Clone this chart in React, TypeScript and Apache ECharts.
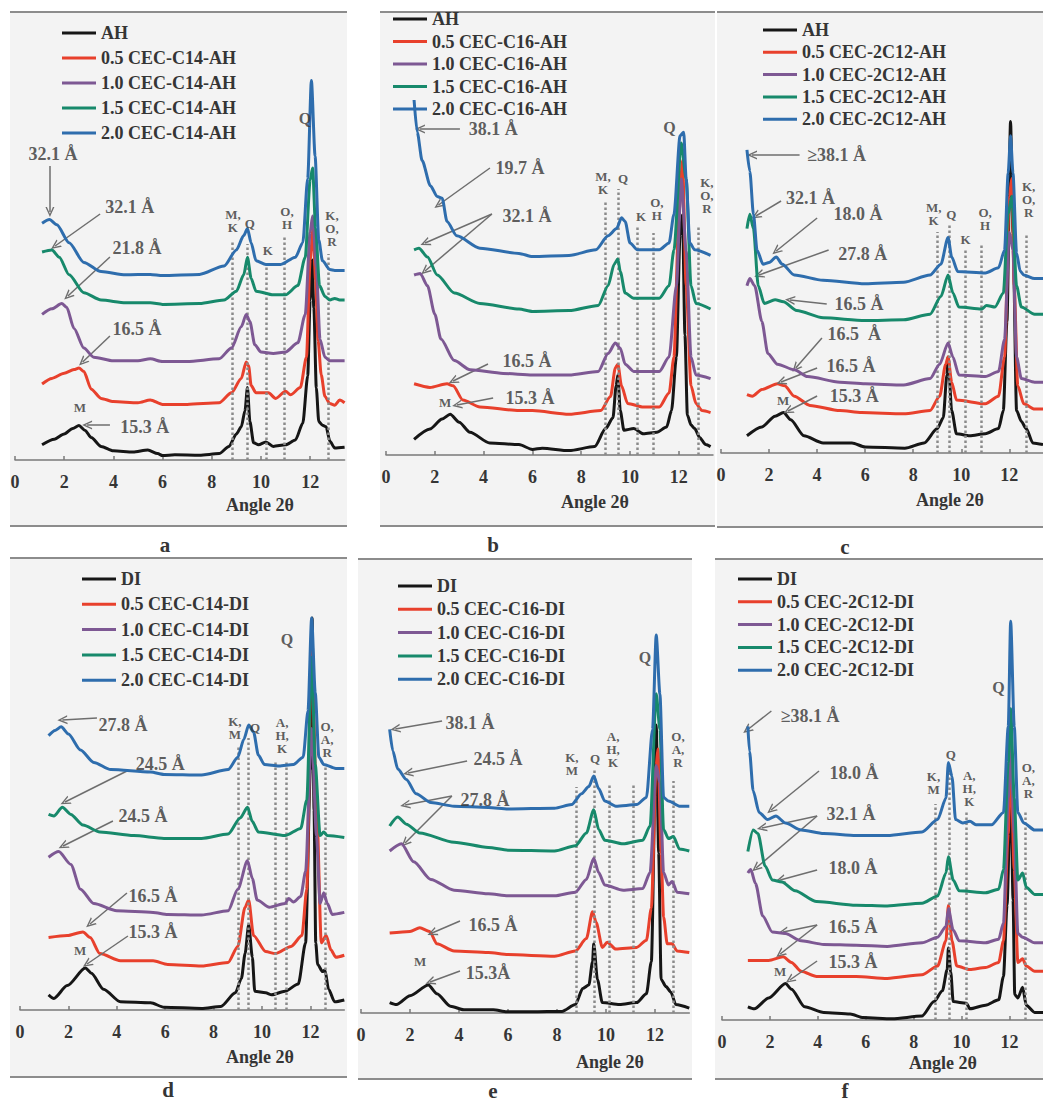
import React, { useEffect, useRef } from 'react';
import * as echarts from 'echarts';

type Pt = [number, number];
type Note = { text: string; at: Pt; from: Pt; to: Pt[] };
type Label = { text: string; at: Pt };

const xTicks = [0, 2, 4, 6, 8, 10, 12];
const seriesColors = ['#161616', '#e8402c', '#7d5893', '#17896b', '#2e6dad'];

// ---------------- panel a ----------------
const aNames = ['AH', '0.5 CEC-C14-AH', '1.0 CEC-C14-AH', '1.5 CEC-C14-AH', '2.0 CEC-C14-AH'];
const aAH: Pt[] = [[1.1,3.8],[1.6,5.2],[2.0,6.5],[2.35,7.9],[2.6,8.6],[2.85,7.4],[3.1,5.6],[3.5,3.4],[4.0,2.3],[4.8,2.0],[5.4,2.5],[5.8,1.6],[6.0,1.1],[6.5,1.3],[7.5,1.2],[8.3,1.6],[8.7,3.4],[9.0,6.5],[9.2,8.3],[9.35,12.3],[9.45,18.1],[9.55,9.6],[9.7,4.3],[9.9,3.8],[10.2,4.5],[10.5,3.4],[11.0,3.8],[11.4,5.0],[11.7,9.2],[11.9,21],[12.0,40],[12.08,50],[12.15,38],[12.25,18],[12.35,9.6],[12.5,8.7],[12.65,8.3],[12.8,4.7],[13.0,3.0],[13.4,3.2]];
const a05: Pt[] = [[1.1,19.0],[1.5,20.4],[2.0,21.7],[2.4,22.6],[2.6,23.0],[2.8,22.1],[3.1,17.7],[3.5,15.4],[4.0,14.6],[5.0,14.3],[5.5,15.0],[6.0,13.9],[7.0,13.9],[8.3,14.3],[8.8,16.8],[9.2,20.4],[9.4,24.5],[9.5,23.5],[9.6,18.6],[9.8,16.8],[10.3,16.8],[10.6,15.4],[11.0,17.2],[11.2,16.3],[11.6,18.1],[11.85,25.7],[12.0,50],[12.12,58],[12.22,45],[12.32,30],[12.45,21.3],[12.6,15.9],[12.8,14.1],[13.0,13.7],[13.2,15.0],[13.4,14.3]];
const a10: Pt[] = [[1.1,36.4],[1.5,37.8],[1.9,39.1],[2.1,38.2],[2.4,32.9],[2.8,28.0],[3.2,25.7],[4.0,24.8],[5.0,24.8],[5.5,25.3],[6.0,24.6],[7.0,24.6],[8.3,25.3],[8.8,28.0],[9.2,33.3],[9.4,36.4],[9.55,34.6],[9.75,28.8],[10.0,27.0],[10.5,26.6],[11.0,27.0],[11.5,29.3],[11.8,36.4],[12.0,57],[12.1,61],[12.25,48],[12.4,30.2],[12.6,25.7],[12.8,24.8],[13.0,24.8],[13.4,24.8]];
const a15: Pt[] = [[1.1,52.0],[1.5,52.5],[1.8,50.7],[2.2,46.3],[2.8,41.8],[3.5,40.0],[4.5,39.3],[5.5,39.3],[6.0,38.9],[7.5,39.1],[8.5,40.0],[9.0,42.2],[9.3,46.3],[9.45,50.7],[9.6,45.4],[9.8,42.2],[10.5,41.3],[11.0,41.3],[11.5,43.6],[11.8,50.7],[12.0,70],[12.1,73],[12.22,58],[12.38,43.6],[12.6,40.9],[12.8,40.0],[13.0,40.4],[13.2,40.0],[13.4,40.0]];
const a20: Pt[] = [[1.1,59.2],[1.4,60.1],[1.7,58.8],[2.2,54.3],[2.8,49.4],[3.5,47.1],[4.5,46.3],[5.5,46.4],[6.0,46.1],[7.5,46.4],[8.5,48.5],[9.0,52.5],[9.3,56.1],[9.45,57.9],[9.6,54.3],[9.8,49.8],[10.2,48.9],[10.8,48.9],[11.4,50.7],[11.7,54.3],[11.9,70.4],[12.05,94.9],[12.2,76],[12.35,55],[12.5,49.8],[12.8,47.6],[13.0,47.4],[13.4,47.4]];
const aNotes: Note[] = [
  { text: '32.1 Å', at: [1.54, 76.5], from: [1.42, 73.5], to: [[1.42, 62]] },
  { text: '32.1 Å', at: [4.67, 63.25], from: [3.46, 61.5], to: [[1.63, 53.5]] },
  { text: '21.8 Å', at: [4.96, 53], from: [3.86, 50.75], to: [[2.15, 41]] },
  { text: '16.5 Å', at: [4.96, 32.75], from: [3.86, 31], to: [[2.75, 24.5]] },
  { text: '15.3 Å', at: [5.28, 8.25], from: [3.86, 8.75], to: [[2.93, 8.75]] },
];
const aPhases: Label[] = [
  { text: 'M,\nK', at: [8.86, 59.75] }, { text: 'Q', at: [9.55, 59.25] }, { text: 'K', at: [10.28, 52.5] },
  { text: 'O,\nH', at: [11.06, 60.5] }, { text: 'K,\nO,\nR', at: [12.89, 58] },
];
const aDots: Pt[] = [[8.85, 54.5], [9.45, 54], [10.2, 49], [10.95, 56], [12.75, 51.5]];
const aPeakTags: Label[] = [{ text: 'Q', at: [11.79, 85.5] }];
const aMinTags: Label[] = [{ text: 'M', at: [2.64, 13.25] }];

// ---------------- panel b ----------------
const bNames = ['AH', '0.5 CEC-C16-AH', '1.0 CEC-C16-AH', '1.5 CEC-C16-AH', '2.0 CEC-C16-AH'];
const bAH: Pt[] = [[1.15,3.9],[1.8,6.5],[2.3,9],[2.63,10.2],[3.0,8.2],[3.44,5.7],[4.25,3.0],[5.45,2.6],[6.0,1.4],[6.4,1.7],[7.5,1.1],[8.55,2.1],[9.0,6.6],[9.3,9.3],[9.43,17.3],[9.5,20],[9.6,11.1],[9.75,6.2],[10.15,6.6],[10.55,5.3],[11.1,5.7],[11.5,7.0],[11.7,11.1],[11.9,24.5],[12.05,55],[12.15,60],[12.25,30],[12.35,10],[12.5,7.5],[12.65,6.6],[12.85,4.4],[13.1,2.6],[13.3,2.1]];
const b05: Pt[] = [[1.15,17.8],[1.8,16.9],[2.5,17.8],[2.75,17.3],[3.15,13.75],[3.85,12.0],[5.45,11.1],[6.0,11.1],[7.5,10.2],[8.8,11.1],[9.2,14.6],[9.4,21.8],[9.5,22.7],[9.65,17.3],[9.9,12.9],[10.55,12.0],[11.2,12.0],[11.6,15.5],[11.8,24.5],[12.0,60],[12.15,73.6],[12.3,42.3],[12.5,17.3],[12.7,12.9],[12.95,11.1],[13.3,10.6]];
const b10: Pt[] = [[1.15,45],[1.4,45.4],[1.7,42.3],[2.0,35.2],[2.25,29],[2.8,23.6],[3.45,21.3],[4.8,20.4],[6.0,20],[7.5,20],[8.7,20.9],[9.1,25.4],[9.4,28],[9.6,26.7],[9.8,22.7],[10.15,20.9],[11.2,20.9],[11.6,24.5],[11.9,42.3],[12.1,69],[12.3,51],[12.5,24.5],[12.7,20],[13.3,19.1]];
const b15: Pt[] = [[1.15,51.3],[1.35,51.7],[1.7,49.5],[2.1,45],[2.8,40.5],[3.85,37.9],[5.45,36.5],[6.0,35.9],[7.5,36.1],[8.7,37.4],[9.1,42.3],[9.35,47.7],[9.5,49],[9.6,45.9],[9.8,40.5],[10.15,39.2],[11.2,39.2],[11.6,42.3],[11.8,51.3],[12.1,78],[12.3,69],[12.5,42.3],[12.7,37.9],[13.3,36.5]];
const b20: Pt[] = [[1.15,88.75],[1.28,80.7],[1.48,73.6],[1.82,67.3],[2.1,64.6],[2.3,64.2],[2.5,58.4],[2.9,54.8],[3.85,51.7],[5.45,50.4],[6.0,49.6],[7.5,49.9],[8.6,51.3],[9.1,54.8],[9.45,56.6],[9.65,59.3],[9.8,58.4],[10.0,53],[10.3,51.3],[11.2,51.3],[11.6,53],[11.8,60.2],[12.05,79.8],[12.2,80.7],[12.3,69],[12.45,53],[12.65,51.3],[13.3,49.9]];
const bNotes: Note[] = [
  { text: '38.1 Å', at: [4.39, 81.5], from: [3.03, 81.5], to: [[1.39, 81.5]] },
  { text: '19.7 Å', at: [5.49, 71.75], from: [4.26, 71.75], to: [[2.15, 62.5]] },
  { text: '32.1 Å', at: [5.78, 59.75], from: [4.34, 60.25], to: [[1.6, 53], [1.6, 46]] },
  { text: '16.5 Å', at: [5.78, 23.5], from: [4.18, 22.75], to: [[2.75, 18.5]] },
  { text: '15.3 Å', at: [5.9, 14.25], from: [4.39, 14.25], to: [[2.91, 12.5]] },
];
const bPhases: Label[] = [
  { text: 'M,\nK', at: [8.89, 68] }, { text: 'Q', at: [9.71, 69.25] }, { text: 'K', at: [10.45, 59.75] },
  { text: 'O,\nH', at: [11.1, 61.5] }, { text: 'K,\nO,\nR', at: [13.15, 65] },
];
const bDots: Pt[] = [[9.0, 63.75], [9.5, 66.5], [10.3, 57.5], [10.95, 55.5], [12.8, 57.5]];
const bPeakTags: Label[] = [{ text: 'Q', at: [11.62, 82] }];
const bMinTags: Label[] = [{ text: 'M', at: [2.42, 13.25] }];

// ---------------- panel c ----------------
const cNames = ['AH', '0.5 CEC-2C12-AH', '1.0 CEC-2C12-AH', '1.5 CEC-2C12-AH', '2.0 CEC-2C12-AH'];
const cAH: Pt[] = [[1.08,4.3],[1.7,6.5],[2.25,9.2],[2.6,10.1],[2.9,8.3],[3.45,4.3],[4.25,2.5],[5.45,2.5],[6.0,1.5],[7.65,1.2],[8.45,2.5],[9.0,6.1],[9.25,8.8],[9.4,19.5],[9.45,24],[9.6,10.6],[9.8,4.8],[10.35,4.3],[11.0,4.8],[11.55,6.1],[11.75,10.6],[11.9,32.9],[12.05,82.9],[12.15,55],[12.3,10.6],[12.5,7.9],[12.7,6.1],[12.98,2.5],[13.4,2.1]];
const c05: Pt[] = [[1.08,14.6],[1.3,14.2],[1.7,15.9],[2.35,17.3],[2.65,16.8],[3.05,14.2],[3.7,11.9],[4.95,10.6],[5.85,10.1],[7.6,9.8],[8.7,10.6],[9.1,14.2],[9.35,22.2],[9.45,24],[9.6,17.7],[9.8,13.25],[11.0,12.3],[11.55,14.2],[11.8,24],[12.0,64.2],[12.1,68.6],[12.2,41.8],[12.35,16.8],[12.6,12.3],[13.05,11],[13.4,11]];
const c10: Pt[] = [[1.08,41.8],[1.2,43.6],[1.4,41.8],[1.7,32.9],[1.95,24.9],[2.35,22.2],[3.05,20.8],[3.6,19.1],[4.95,17.7],[6.0,17.3],[7.6,17],[8.7,18.6],[9.1,22.2],[9.45,27.5],[9.65,24],[9.9,19.5],[11.0,19.1],[11.55,20.4],[11.8,28.4],[12.0,55.2],[12.15,50.7],[12.3,24],[12.5,18.6],[13.05,17.7],[13.4,17.7]];
const c15: Pt[] = [[1.08,56.1],[1.2,59.7],[1.35,56.1],[1.55,41.8],[1.8,37.4],[2.25,38.3],[2.6,37.8],[3.15,35.6],[4.25,33.8],[6.0,33.1],[7.6,33.3],[8.7,34.7],[9.15,39.1],[9.45,44.5],[9.65,40],[9.9,36.5],[10.85,36],[11.05,36.9],[11.4,36.5],[11.75,40],[11.95,59.7],[12.1,64.2],[12.3,41.8],[12.5,36.5],[13.05,34.7],[13.4,34.7]];
const c20: Pt[] = [[1.08,75.8],[1.2,70.4],[1.35,59.7],[1.5,50.7],[1.75,47.2],[2.0,47.6],[2.3,49],[2.55,47.2],[3.05,44.5],[4.25,43.2],[6.0,42.3],[7.6,42.7],[8.7,44.5],[9.15,47.2],[9.45,53.9],[9.6,49],[9.85,45.4],[11.0,45],[11.55,46.3],[11.8,50.7],[11.95,70],[12.05,79.3],[12.15,70],[12.3,50],[12.45,45.5],[12.6,44.5],[13.05,43.6],[13.4,43.6]];
const cNotes: Note[] = [
  { text: '≥38.1 Å', at: [4.81, 74.5], from: [3.27, 74.5], to: [[1.29, 74.5]] },
  { text: '32.1 Å', at: [3.72, 63.75], from: [2.5, 63], to: [[1.45, 59.25]] },
  { text: '18.0 Å', at: [5.7, 59.75], from: [4.0, 58.75], to: [[2.3, 50.5]] },
  { text: '27.8 Å', at: [5.9, 49.75], from: [4.48, 50.75], to: [[1.58, 44.5]] },
  { text: '16.5 Å', at: [5.74, 37.25], from: [4.4, 37.25], to: [[2.87, 38.25]] },
  { text: '16.5  Å', at: [5.54, 29.75], from: [4.2, 28.75], to: [[3.11, 21.25]] },
  { text: '16.5 Å', at: [5.41, 21.75], from: [4.0, 21.25], to: [[2.5, 17.75]] },
  { text: '15.3 Å', at: [5.54, 14.25], from: [4.0, 14.25], to: [[2.79, 10.5]] },
];
const cPhases: Label[] = [
  { text: 'M,\nK', at: [8.85, 59.75] }, { text: 'Q', at: [9.58, 59.75] }, { text: 'K', at: [10.18, 53.5] },
  { text: 'O,\nH', at: [10.99, 58.5] }, { text: 'K,\nO,\nR', at: [12.8, 63.5] },
];
const cDots: Pt[] = [[9.0, 55.25], [9.5, 57], [10.15, 50.75], [10.85, 52.5], [12.7, 55]];
const cPeakTags: Label[] = [];
const cMinTags: Label[] = [{ text: 'M', at: [2.59, 13.25] }];

// ---------------- panel d ----------------
const dNames = ['DI', '0.5 CEC-C14-DI', '1.0 CEC-C14-DI', '1.5 CEC-C14-DI', '2.0 CEC-C14-DI'];
const dDI: Pt[] = [[1.18,3.8],[1.4,2.9],[1.95,6.1],[2.7,10.5],[2.95,9.2],[3.45,5.2],[4.15,2.05],[5.4,1.8],[5.95,0.7],[7.5,0.4],[8.3,0.9],[8.9,4.3],[9.15,7.9],[9.3,14.1],[9.45,21.3],[9.6,13.2],[9.7,4.7],[10.15,4.3],[10.4,3.8],[10.95,4.7],[11.5,6.5],[11.8,16.8],[12.0,60],[12.07,98],[12.15,50],[12.22,16.8],[12.3,11.4],[12.5,9.6],[12.6,10],[12.75,5.2],[13.0,2.05],[13.4,2.5]];
const d05: Pt[] = [[1.18,18.1],[1.95,18.6],[2.6,19.5],[2.9,18.1],[3.3,14.1],[4.15,12.3],[5.5,12.3],[6.1,11.4],[7.5,11],[8.6,11.9],[9.0,15.9],[9.3,25.7],[9.45,27.5],[9.65,18.6],[10.15,14.6],[10.55,14.1],[11.2,15.9],[11.65,18.6],[11.85,30.2],[12.05,92.7],[12.25,52.5],[12.45,16.8],[12.65,18.6],[12.85,15],[13.05,13.2],[13.4,13.7]];
const d10: Pt[] = [[1.18,38.2],[1.6,39.6],[2.1,36.4],[2.5,30.2],[3.05,26.6],[4.0,24.8],[5.5,24.4],[6.1,23.9],[7.5,23.75],[8.6,24.8],[9.0,30.2],[9.4,37.3],[9.6,32.9],[9.8,27.5],[10.3,25.7],[10.95,26.6],[11.1,27.9],[11.3,27],[11.6,28.4],[11.8,34.6],[12.05,70.4],[12.25,43.6],[12.4,26.6],[12.55,29.3],[12.7,26.6],[12.9,23.9],[13.4,24.4]];
const d15: Pt[] = [[1.18,48.9],[1.4,48.5],[1.75,50.7],[2.1,48.9],[2.6,46.25],[3.3,44.5],[4.7,43.6],[5.95,42.9],[7.5,42.9],[8.6,44],[9.1,48],[9.4,50.7],[9.6,47.1],[9.85,44.5],[10.95,43.6],[11.6,45.4],[11.85,52.5],[12.05,88.2],[12.2,61.4],[12.4,43.6],[12.55,44.5],[12.7,43.6],[13.4,43.1]];
const d20: Pt[] = [[1.18,68.6],[1.45,69.9],[1.7,70.8],[2.0,69],[2.5,65],[3.05,61.9],[3.75,60.1],[5.4,59.5],[5.95,58.9],[7.5,58.75],[8.6,60.1],[9.0,63.2],[9.25,67.7],[9.45,71.25],[9.65,69.5],[9.85,63.7],[10.1,61.4],[10.7,61],[11.3,61.4],[11.7,63.2],[11.9,74.8],[12.05,98],[12.2,79.3],[12.35,63.2],[12.55,61.4],[13.05,60.4],[13.4,60.4]];
const dNotes: Note[] = [
  { text: '27.8 Å', at: [4.26, 71.25], from: [3.18, 73], to: [[1.75, 72.5]] },
  { text: '24.5 Å', at: [5.79, 61.5], from: [4.42, 59.75], to: [[1.86, 52]] },
  { text: '24.5 Å', at: [5.08, 48.5], from: [3.84, 47.25], to: [[1.78, 41]] },
  { text: '16.5 Å', at: [5.5, 28.5], from: [4.42, 29.25], to: [[2.89, 21.5]] },
  { text: '15.3 Å', at: [5.5, 19.5], from: [4.46, 18.5], to: [[2.77, 11.5]] },
];
const dPhases: Label[] = [
  { text: 'K,\nM', at: [8.88, 70.5] }, { text: 'Q', at: [9.71, 70.75] },
  { text: 'A,\nH,\nK', at: [10.83, 68.75] }, { text: 'O,\nA,\nR', at: [12.69, 67.75] },
];
const dDots: Pt[] = [[9.0, 66], [9.45, 68], [10.55, 62], [11.0, 62], [12.6, 61]];
const dPeakTags: Label[] = [{ text: 'Q', at: [11.03, 92.75] }];
const dMinTags: Label[] = [{ text: 'M', at: [2.48, 15] }];

// ---------------- panel e ----------------
const eNames = ['DI', '0.5 CEC-C16-DI', '1.0 CEC-C16-DI', '1.5 CEC-C16-DI', '2.0 CEC-C16-DI'];
const eDI: Pt[] = [[1.17,2.6],[1.45,2.1],[2.0,4.3],[2.75,7],[3.1,4.8],[3.65,1.7],[4.2,0.8],[5.4,0.8],[5.95,0.3],[7.0,0.3],[8.2,0.4],[8.75,2.1],[9.05,6.1],[9.3,7],[9.45,12.8],[9.5,17.3],[9.65,8.4],[9.85,2.6],[10.55,2.1],[11.25,2.6],[11.65,4.8],[11.85,12.8],[12.05,72],[12.15,40],[12.25,8.4],[12.45,6.6],[12.65,5.2],[12.85,2.1],[13.4,1.2]];
const e05: Pt[] = [[1.17,20],[2.0,20.4],[2.4,21.3],[2.8,20.4],[3.1,17.3],[3.8,15.5],[5.2,15.1],[6.0,14.6],[7.9,14.2],[8.75,15.5],[9.2,18.6],[9.45,25.3],[9.6,22.6],[9.85,16.4],[10.05,17.7],[10.4,16],[11.25,16.4],[11.65,18.2],[11.85,26.2],[12.05,62],[12.12,66],[12.25,40],[12.35,24],[12.5,17.3],[12.7,17.3],[12.9,15.5],[13.4,15.1]];
const e10: Pt[] = [[1.17,40.5],[1.65,42.3],[2.15,37.8],[2.85,33.4],[3.8,30.7],[5.2,29.8],[6.0,29.3],[7.9,29.3],[8.75,30.2],[9.2,33.4],[9.5,38.7],[9.7,35.1],[9.95,32],[10.7,30.7],[11.5,31.1],[11.8,35.1],[12.05,61.9],[12.2,57.5],[12.35,35.1],[12.55,32],[12.7,32.9],[12.9,30.2],[13.4,29.8]];
const e15: Pt[] = [[1.17,46.75],[1.5,49],[1.85,47.2],[2.4,45],[3.8,42.7],[5.2,41.4],[6.0,40.7],[7.9,40.5],[8.75,41.8],[9.2,45],[9.5,50.8],[9.7,45.9],[9.95,43.2],[10.7,42.3],[11.5,43.2],[11.8,46.75],[12.05,79.8],[12.2,70.9],[12.35,45.9],[12.55,43.6],[12.75,44.1],[13.0,41],[13.4,40.5]];
const e20: Pt[] = [[1.17,70.9],[1.3,65.5],[1.5,61],[1.85,58.4],[2.25,54.8],[2.85,52.6],[3.8,51.7],[5.2,51.4],[6.0,51],[7.9,51.2],[8.6,52.1],[9.0,54.8],[9.3,56.6],[9.5,59.25],[9.7,56.1],[9.95,53],[10.4,51.7],[11.25,52.1],[11.65,53.9],[11.9,70.9],[12.05,94.5],[12.2,79.8],[12.35,53.9],[12.55,53],[13.0,51.7],[13.4,51.7]];
const eNotes: Note[] = [
  { text: '38.1 Å', at: [4.45, 72.5], from: [3.31, 73], to: [[1.4, 71]] },
  { text: '24.5 Å', at: [5.59, 63.5], from: [4.33, 63], to: [[1.92, 60]] },
  { text: '27.8 Å', at: [5.06, 53.25], from: [3.71, 54.25], to: [[1.8, 52], [1.8, 42.5]] },
  { text: '16.5 Å', at: [5.39, 22], from: [4.04, 23], to: [[2.9, 20]] },
  { text: '15.3Å', at: [5.18, 10], from: [4.04, 10.5], to: [[2.82, 7.75]] },
];
const ePhases: Label[] = [
  { text: 'K,\nM', at: [8.61, 62.25] }, { text: 'Q', at: [9.55, 63.75] },
  { text: 'A,\nH,\nK', at: [10.29, 66] }, { text: 'O,\nA,\nR', at: [12.94, 66] },
];
const eDots: Pt[] = [[8.8, 56.5], [9.5, 61], [10.15, 57.5], [11.1, 57.5], [12.75, 58]];
const ePeakTags: Label[] = [{ text: 'Q', at: [11.59, 89] }];
const eMinTags: Label[] = [{ text: 'M', at: [2.41, 13] }];

// ---------------- panel f ----------------
const fNames = ['DI', '0.5 CEC-2C12-DI', '1.0 CEC-2C12-DI', '1.5 CEC-2C12-DI', '2.0 CEC-2C12-DI'];
const fDI: Pt[] = [[1.08,3.3],[1.35,2.8],[1.95,5.5],[2.65,9.1],[2.9,7.7],[3.45,3.3],[4.25,1.9],[5.35,1.5],[5.9,0.6],[7.1,0.3],[8.35,1.0],[8.85,4.6],[9.2,7.3],[9.4,12.6],[9.45,18],[9.55,12],[9.65,4.6],[10.2,4.2],[10.35,2.8],[11.0,3.7],[11.55,5.05],[11.75,10.9],[11.9,28.7],[12.05,60],[12.15,30],[12.22,6.4],[12.35,5.5],[12.55,8.2],[12.7,3.7],[13.05,1.9],[13.4,1.9]];
const f05: Pt[] = [[1.08,14.9],[1.95,14.9],[2.55,15.8],[2.9,14.4],[3.3,12.2],[3.95,10.9],[5.6,10.9],[6.9,10.4],[8.35,11.3],[9.0,13.5],[9.35,19.8],[9.45,28.7],[9.6,19.8],[9.8,13.5],[10.35,12.6],[11.0,13.1],[11.55,14.4],[11.75,19.8],[11.95,46.6],[12.05,64.4],[12.2,37.6],[12.35,14.4],[12.55,15.3],[12.7,13.5],[13.05,12.2],[13.4,12.2]];
const f10: Pt[] = [[1.08,36.75],[1.2,37.6],[1.4,34.1],[1.7,26],[2.1,22],[2.65,21.6],[3.3,19.8],[4.25,18.9],[5.6,18.7],[6.9,18.4],[8.35,19.3],[9.0,20.7],[9.35,23.4],[9.45,27.8],[9.65,22.5],[9.9,19.8],[11.0,19.3],[11.55,20.2],[11.75,24.25],[11.95,55.5],[12.05,68.9],[12.2,46.6],[12.35,21.6],[12.55,20.7],[13.05,19.3],[13.4,19.3]];
const f15: Pt[] = [[1.08,42.1],[1.3,47.5],[1.5,46.6],[1.8,38.5],[2.1,35],[2.5,34.5],[3.05,32.3],[3.95,29.6],[5.6,28.7],[6.9,28.5],[8.35,29.2],[9.0,31],[9.35,36.75],[9.45,40.8],[9.65,35],[9.9,32.3],[11.0,31.8],[11.55,32.7],[11.75,37.6],[11.95,64.4],[12.05,77.8],[12.2,55.5],[12.35,35],[12.55,36.75],[12.7,33.2],[13.05,31.4],[13.4,31.4]];
const f20: Pt[] = [[1.08,73.4],[1.15,67.1],[1.3,57.3],[1.55,51.9],[1.9,50.1],[2.25,51],[2.65,49.25],[3.3,47.5],[4.25,46.6],[5.6,46.1],[6.9,46.1],[8.35,47],[9.0,50.1],[9.35,55.5],[9.45,64.4],[9.6,60.9],[9.75,50.1],[10.05,49.25],[10.35,49.7],[10.6,48.8],[11.25,48.8],[11.75,51.9],[11.95,73.4],[12.05,99.7],[12.2,73.4],[12.35,51.9],[12.6,49.25],[13.05,47.5],[13.4,47.5]];
const fNotes: Note[] = [
  { text: '≥38.1 Å', at: [3.68, 76], from: [2.06, 77.25], to: [[1.05, 72.5]] },
  { text: '18.0 Å', at: [5.51, 61.75], from: [4.05, 62.25], to: [[2.05, 52.5]] },
  { text: '32.1 Å', at: [5.38, 51.5], from: [3.97, 51], to: [[1.66, 48], [1.42, 38]] },
  { text: '18.0 Å', at: [5.47, 38], from: [3.97, 37.5], to: [[2.43, 35]] },
  { text: '16.5 Å', at: [5.47, 23.25], from: [3.97, 23.75], to: [[2.55, 22], [2.43, 16.5]] },
  { text: '15.3 Å', at: [5.47, 14.5], from: [3.97, 14.75], to: [[2.83, 10]] },
];
const fPhases: Label[] = [
  { text: 'K,\nM', at: [8.83, 59.25] }, { text: 'Q', at: [9.55, 66.5] },
  { text: 'A,\nH,\nK', at: [10.32, 58] }, { text: 'O,\nA,\nR', at: [12.79, 60] },
];
const fDots: Pt[] = [[8.9, 54], [9.5, 63], [10.2, 52], [12.65, 52]];
const fPeakTags: Label[] = [{ text: 'Q', at: [11.54, 83.25] }];
const fMinTags: Label[] = [{ text: 'M', at: [2.43, 12.25] }];

// ---------------- assembly ----------------
const panels = [
  { letter: 'a', names: aNames, data: [aAH, a05, a10, a15, a20], notes: aNotes, phases: aPhases, dots: aDots, peaks: aPeakTags, mins: aMinTags },
  { letter: 'b', names: bNames, data: [bAH, b05, b10, b15, b20], notes: bNotes, phases: bPhases, dots: bDots, peaks: bPeakTags, mins: bMinTags },
  { letter: 'c', names: cNames, data: [cAH, c05, c10, c15, c20], notes: cNotes, phases: cPhases, dots: cDots, peaks: cPeakTags, mins: cMinTags },
  { letter: 'd', names: dNames, data: [dDI, d05, d10, d15, d20], notes: dNotes, phases: dPhases, dots: dDots, peaks: dPeakTags, mins: dMinTags },
  { letter: 'e', names: eNames, data: [eDI, e05, e10, e15, e20], notes: eNotes, phases: ePhases, dots: eDots, peaks: ePeakTags, mins: eMinTags },
  { letter: 'f', names: fNames, data: [fDI, f05, f10, f15, f20], notes: fNotes, phases: fPhases, dots: fDots, peaks: fPeakTags, mins: fMinTags },
];

const layouts = [
  { left: 15, width: 329.6, axisY: 460, legend: [62, 24], gap: 7, frame: [10, 12, 337, 514], letterAt: [165, 545], angleAt: [260, 505] },
  { left: 386, width: 327, axisY: 455, legend: [393, 10], gap: 4.5, frame: [380, 12, 335, 514], letterAt: [493, 545], angleAt: [595, 502] },
  { left: 721, width: 331.7, axisY: 453, legend: [763, 21], gap: 4.3, frame: [717, 12, 330, 515], letterAt: [845, 547], angleAt: [950, 500] },
  { left: 20, width: 324.3, axisY: 1010, legend: [82, 570], gap: 7.3, frame: [10, 558, 337, 519], letterAt: [168, 1090], angleAt: [260, 1057] },
  { left: 361, width: 328.3, axisY: 1013, legend: [398, 577], gap: 5.3, frame: [358, 559, 334, 520], letterAt: [493, 1091], angleAt: [610, 1062] },
  { left: 722, width: 331, axisY: 1020, legend: [738, 570], gap: 4.8, frame: [715, 559, 330, 520], letterAt: [845, 1091], angleAt: [943, 1063] },
];

const FONT = "'Liberation Serif', 'Times New Roman', serif";
const TEXT = '#353535';
const CHEVRON = 'path://M0,12 L6,0 L12,12 L10,12 L6,4 L2,12 Z';
const PLOT_H = 440;
const Y_MAX = 110;

function buildOption(): any {
  const grid: any[] = [];
  const xAxis: any[] = [];
  const yAxis: any[] = [];
  const series: any[] = [];
  const legend: any[] = [];
  const graphic: any[] = [];

  panels.forEach((p, i) => {
    const l = layouts[i];
    grid.push({ left: l.left, top: l.axisY - PLOT_H, width: l.width, height: PLOT_H });
    xAxis.push({
      type: 'value', gridIndex: i, min: 0, max: 13.4,
      axisLine: { show: true, lineStyle: { color: '#7a7a7a', width: 1.5 } },
      axisTick: { show: true, inside: true, length: 4, customValues: xTicks, lineStyle: { color: '#7a7a7a', width: 1.5 } },
      axisLabel: { customValues: xTicks, margin: 13, fontFamily: FONT, fontWeight: 'bold', fontSize: 18, color: TEXT },
      splitLine: { show: false },
    });
    yAxis.push({ type: 'value', gridIndex: i, min: 0, max: Y_MAX, show: false });

    p.data.forEach((d, k) => {
      series.push({
        type: 'line', name: p.names[k], xAxisIndex: i, yAxisIndex: i, data: d,
        symbol: 'none', showSymbol: false, smooth: 0.25, smoothMonotone: 'x',
        lineStyle: { color: seriesColors[k], width: 3 }, itemStyle: { color: seriesColors[k] },
        z: 3 + k, silent: true, emphasis: { disabled: true },
      });
    });

    const labelItems: any[] = [
      ...p.notes.map((n) => ({ value: n.at, label: { formatter: n.text, fontSize: 18 } })),
      ...p.phases.map((ph) => ({ value: ph.at, label: { formatter: ph.text, fontSize: 13, lineHeight: 13 } })),
      ...p.peaks.map((t) => ({ value: t.at, label: { formatter: t.text, fontSize: 16 } })),
      ...p.mins.map((t) => ({ value: t.at, label: { formatter: t.text, fontSize: 13 } })),
    ];
    const arrowStyle = { color: '#6e6e6e', width: 1.5, type: 'solid' };
    const dotStyle = { color: '#8a8a8a', width: 2.5, type: 'dotted' };
    const lines: any[] = [];
    p.notes.forEach((n) => n.to.forEach((t) => {
      lines.push([
        { coord: n.from, symbol: 'none', lineStyle: arrowStyle },
        { coord: t, symbol: CHEVRON, symbolSize: [9, 10], lineStyle: arrowStyle },
      ]);
    }));
    p.dots.forEach(([x, top]) => {
      lines.push([
        { coord: [x, 0], symbol: 'none', lineStyle: dotStyle },
        { coord: [x, top], symbol: 'none', lineStyle: dotStyle },
      ]);
    });
    series.push({
      type: 'scatter', name: 'notes-' + p.letter, xAxisIndex: i, yAxisIndex: i,
      data: labelItems, symbolSize: 1, itemStyle: { color: 'rgba(0,0,0,0)' },
      label: { show: true, position: 'inside', fontFamily: FONT, fontWeight: 'bold', color: TEXT },
      silent: true, z: 10, emphasis: { disabled: true },
      markLine: {
        silent: true, animation: false, symbol: ['none', 'none'],
        label: { show: false }, emphasis: { disabled: true },
        lineStyle: arrowStyle, data: lines,
      },
    });

    legend.push({
      data: p.names, orient: 'vertical', left: l.legend[0], top: l.legend[1],
      itemWidth: 34, itemHeight: 3, itemGap: l.gap, icon: 'rect', padding: 0,
      selectedMode: false,
      textStyle: { fontFamily: FONT, fontWeight: 'bold', fontSize: 18, color: TEXT, lineHeight: 17 },
    });

    const [fx, fy, fw, fh] = l.frame;
    graphic.push(
      { type: 'rect', shape: { x: fx, y: fy, width: fw, height: fh }, style: { fill: '#f3f3f3' }, z: 0, silent: true },
      { type: 'line', shape: { x1: fx, y1: fy, x2: fx + fw, y2: fy }, style: { stroke: '#8c8c8c', lineWidth: 2 }, z: 1, silent: true },
      { type: 'line', shape: { x1: fx, y1: fy + fh, x2: fx + fw, y2: fy + fh }, style: { stroke: '#8c8c8c', lineWidth: 2 }, z: 1, silent: true },
      { type: 'text', x: l.letterAt[0], y: l.letterAt[1], style: { text: p.letter, fontFamily: FONT, fontWeight: 'bold', fontSize: 21, fill: TEXT, align: 'center', verticalAlign: 'middle' }, z: 1, silent: true },
      { type: 'text', x: l.angleAt[0], y: l.angleAt[1], style: { text: 'Angle 2θ', fontFamily: FONT, fontWeight: 'bold', fontSize: 18, fill: TEXT, align: 'center', verticalAlign: 'middle' }, z: 1, silent: true },
    );
  });

  return { animation: false, backgroundColor: '#ffffff', grid, xAxis, yAxis, series, legend, graphic };
}

export default function App() {
  const ref = useRef<HTMLDivElement>(null);
  useEffect(() => {
    document.body.style.margin = '0';
    if (!ref.current) return;
    const chart = echarts.init(ref.current, undefined, { renderer: 'svg' });
    chart.setOption(buildOption());
    return () => chart.dispose();
  }, []);
  return <div ref={ref} style={{ width: 1043, height: 1103 }} />;
}
